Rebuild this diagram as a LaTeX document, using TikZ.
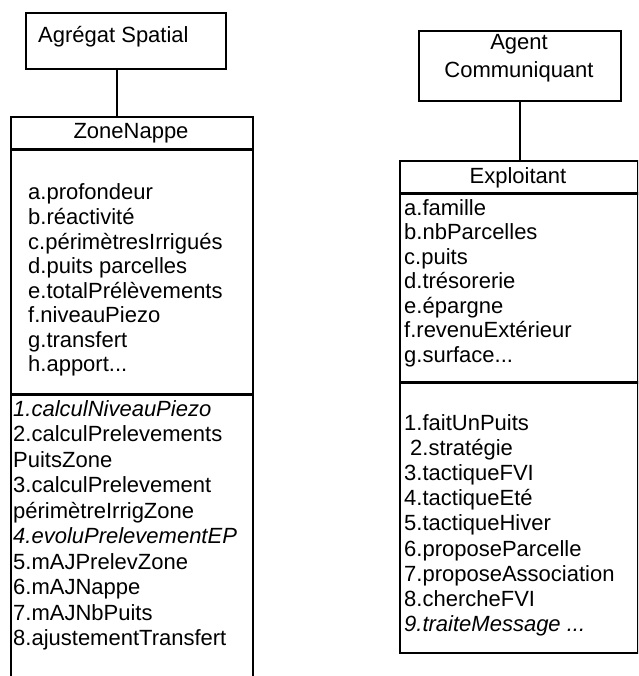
\documentclass[tikz,border=0pt]{standalone}
\usepackage{fontspec}
\setmainfont{Liberation Sans}
\begin{document}
\begin{tikzpicture}[x=1pt,y=-1pt,
  box/.style={draw,line width=2pt,inner sep=0pt,anchor=north west},
  sepline/.style={line width=3pt},
  link/.style={line width=2.6pt},
  txt/.style={inner sep=0pt,font=\fontsize{22}{26}\selectfont},
  item/.style={txt,anchor=base west},
]
\useasboundingbox (0,0) rectangle (638,676);
\clip (0,0) rectangle (638,676);

% ---- left class: Agrégat Spatial / ZoneNappe ----
\node[box,minimum width=200pt,minimum height=56pt] (agr) at (25,12) {};
\node[txt,anchor=west] (agrt) at (38,37) {Agrégat Spatial};

\node[box,minimum width=242pt,minimum height=600pt] (zn) at (10,116) {};
\node[txt] (znt) at (131,133) {ZoneNappe};
\draw[sepline] (zn.west |- 0,150) -- (zn.east |- 0,150);
\draw[sepline] (zn.west |- 0,394) -- (zn.east |- 0,394);

\coordinate (lk1) at (117,0);
\draw[link] (agr.south -| lk1) -- (zn.north -| lk1);

% attributes
\node[item] (za1) at (28,200) {a.profondeur};
\node[item] (za2) at (28,224.5) {b.réactivité};
\node[item] (za3) at (28,249) {c.périmètresIrrigués};
\node[item] (za4) at (28,273.5) {d.puits parcelles};
\node[item] (za5) at (28,298) {e.totalPrélèvements};
\node[item] (za6) at (28,322.5) {f.niveauPiezo};
\node[item] (za7) at (28,347) {g.transfert};
\node[item] (za8) at (28,371.5) {h.apport...};

% methods
\node[item] (zm1) at (13,416) {\itshape 1.calculNiveauPiezo};
\node[item] (zm2) at (13,441.5) {2.calculPrelevements};
\node[item] (zm3) at (13,467) {PuitsZone};
\node[item] (zm4) at (13,492.5) {3.calculPrelevement};
\node[item] (zm5) at (13,518) {périmètreIrrigZone};
\node[item] (zm6) at (13,543.5) {\itshape 4.evoluPrelevementEP};
\node[item] (zm7) at (13,569) {5.mAJPrelevZone};
\node[item] (zm8) at (13,594.5) {6.mAJNappe};
\node[item] (zm9) at (13,620) {7.mAJNbPuits};
\node[item] (zm10) at (13,645.5) {8.ajustementTransfert};

% ---- right class: Agent Communiquant / Exploitant ----
\node[box,minimum width=202pt,minimum height=70pt] (ag) at (418,30) {};
\node[txt] (agt1) at (519,44) {Agent};
\node[txt] (agt2) at (519,72) {Communiquant};

\node[box,minimum width=238pt,minimum height=492pt] (ex) at (399,160) {};
\node[txt] (ext) at (518,178) {Exploitant};
\draw[sepline] (ex.west |- 0,194) -- (ex.east |- 0,194);
\draw[sepline] (ex.west |- 0,382) -- (ex.east |- 0,382);

\draw[link,line width=2pt] (ag.south) -- (ag.south |- ex.north);

% attributes
\node[item] (ea1) at (404,215) {a.famille};
\node[item] (ea2) at (404,239.5) {b.nbParcelles};
\node[item] (ea3) at (404,264) {c.puits};
\node[item] (ea4) at (404,288.5) {d.trésorerie};
\node[item] (ea5) at (404,313) {e.épargne};
\node[item] (ea6) at (404,337.5) {f.revenuExtérieur};
\node[item] (ea7) at (404,362) {g.surface...};

% methods
\node[item] (em1) at (404,430) {1.faitUnPuits};
\node[item] (em2) at (410,455.2) {2.stratégie};
\node[item] (em3) at (404,480.4) {3.tactiqueFVI};
\node[item] (em4) at (404,505.6) {4.tactiqueEté};
\node[item] (em5) at (404,530.8) {5.tactiqueHiver};
\node[item] (em6) at (404,556) {6.proposeParcelle};
\node[item] (em7) at (404,581.2) {7.proposeAssociation};
\node[item] (em8) at (404,606.4) {8.chercheFVI};
\node[item] (em9) at (404,631.6) {\itshape 9.traiteMessage ...};
\end{tikzpicture}
\end{document}
